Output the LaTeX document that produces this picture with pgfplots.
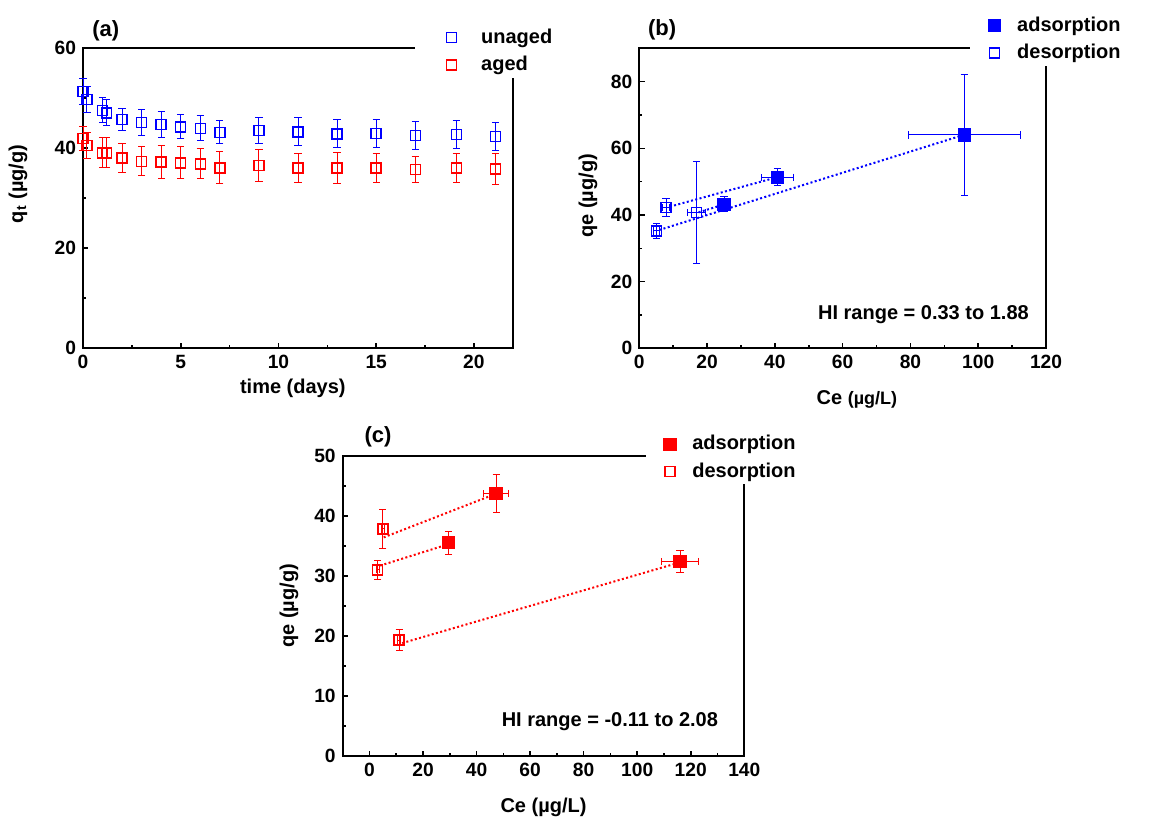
\documentclass[border=0pt]{standalone}
\usepackage{fontspec}
\setmainfont{Liberation Sans}
\usepackage{pgfplots}
\pgfplotsset{compat=1.18}

\pgfplotsset{
  panel/.style={
    scale only axis,
    axis line style={line width=1pt},
    tick pos=left,
    tick align=inside,
    major tick length=2.6pt,
    minor tick length=1.5pt,
    every tick/.style={black, line width=0.8pt},
    minor tick num=1,
    tick label style={font=\fontsize{9.6}{11}\selectfont\bfseries},
    /pgf/number format/assume math mode=true,
    label style={font=\fontsize{10}{12}\selectfont\bfseries},
    legend style={fill=white, draw=none, font=\fontsize{10}{12}\selectfont\bfseries,
      inner xsep=0pt, inner ysep=0pt, row sep=1pt},
    legend cell align=left,
    clip=false,
  },
  % legend image: invisible path sets the cell width, mark at a given x
  legimg/.style 2 args={legend image code/.code={
    \path (0pt,0pt) (#2,0pt);
    \draw[##1] plot coordinates {(#1,0pt)};}},
  pts/.style={only marks, color=#1, mark size=2.5pt,
    mark options={line width=0.7pt, solid, draw=#1, fill=#1},
    error bars/error bar style={line width=0.5pt, #1},
    error bars/error mark options={rotate=90, mark size=1.8pt, line width=0.5pt, #1}},
  fit/.style={color=#1, line width=1pt, dash pattern=on 1pt off 1.2pt, mark=none, forget plot},
}

\begin{document}
\begin{tikzpicture}
\useasboundingbox (0,0) rectangle (577pt,410pt);

% (a)
\begin{axis}[panel,
  at={(41.5pt,236pt)}, anchor=south west,
  width=215pt, height=150pt,
  xmin=0, xmax=22, ymin=0, ymax=60,
  xtick={0,5,10,15,20}, ytick={0,20,40,60},
  xlabel={time (days)},
  ylabel={q\textsubscript{t} (µg/g)},
  xlabel style={at={(axis description cs:0.488,-0.133)}, anchor=center},
  ylabel style={at={(axis description cs:-0.151,0.547)}, anchor=center},
  legend style={at={(axis description cs:0.772,0.9)}, anchor=south west},
  legimg={17.9pt}{30.5pt},
]
\addplot[pts=blue, mark=square, error bars/.cd, y dir=both, y explicit] coordinates {
  (0,51.3) +- (0,2.6) (0.2,49.7) +- (0,2.6) (1.0,47.5) +- (0,2.5) (1.2,47.0) +- (0,2.6)
  (2,45.7) +- (0,2.2) (3,45.1) +- (0,2.6) (4,44.7) +- (0,2.6) (5,44.2) +- (0,2.4)
  (6,43.9) +- (0,2.5) (7,43.1) +- (0,2.3) (9,43.5) +- (0,2.6) (11,43.2) +- (0,2.8)
  (13,42.8) +- (0,2.8) (15,42.9) +- (0,2.8) (17,42.5) +- (0,2.8) (19.1,42.7) +- (0,2.8)
  (21.1,42.3) +- (0,2.8)};
\addlegendentry{unaged}
\addplot[pts=red, mark=square, error bars/.cd, y dir=both, y explicit] coordinates {
  (0,41.9) +- (0,2.4) (0.2,40.5) +- (0,2.6) (1.0,39.0) +- (0,3.0) (1.2,39.0) +- (0,3.0)
  (2,38.0) +- (0,2.9) (3,37.3) +- (0,2.9) (4,37.2) +- (0,3.3) (5,37.0) +- (0,3.2)
  (6,36.8) +- (0,3.0) (7,36.0) +- (0,3.2) (9,36.5) +- (0,3.2) (11,36.0) +- (0,2.9)
  (13,36.0) +- (0,3.1) (15,36.0) +- (0,2.9) (17,35.7) +- (0,2.6) (19.1,36.0) +- (0,2.9)
  (21.1,35.8) +- (0,3.1)};
\addlegendentry{aged}
\node[font=\fontsize{11}{13}\selectfont\bfseries] at (axis description cs:0.053,1.057) {(a)};
\end{axis}

% (b)
\begin{axis}[panel,
  at={(319.65pt,235.85pt)}, anchor=south west,
  width=203.35pt, height=150pt,
  xmin=0, xmax=120, ymin=0, ymax=90,
  xtick={0,20,...,120}, ytick={0,20,...,80},
  xlabel={Ce {\fontsize{9}{11}\selectfont(µg/L)}},
  ylabel={qe (µg/g)},
  xlabel style={at={(axis description cs:0.535,-0.172)}, anchor=center},
  ylabel style={at={(axis description cs:-0.126,0.508)}, anchor=center},
  legend style={at={(axis description cs:0.813,0.941)}, anchor=south west},
  legimg={12pt}{21pt},
]
\addplot[fit=blue] coordinates {(5.9,35.5) (94.1,63.5)};
\addplot[fit=blue] coordinates {(9.0,42.5) (39.5,51.0)};
\addplot[fit=blue] coordinates {(17.5,40.8) (24.5,43.0)};
\addplot[pts=blue, mark=square*, mark size=3pt, error bars/.cd, x dir=both, x explicit, y dir=both, y explicit] coordinates {
  (95.9,64.0) +- (16.5,18.2) (40.8,51.3) +- (4.7,2.6) (25.0,43.2) +- (0.8,2.3)};
\addlegendentry{adsorption}
\addplot[pts=blue, mark=square, error bars/.cd, x dir=both, x explicit, y dir=both, y explicit] coordinates {
  (7.9,42.3) +- (1.0,2.7) (16.9,40.7) +- (2.6,15.4) (5.1,35.2) +- (0.8,2.3)};
\addlegendentry{desorption}
\node[font=\fontsize{10}{12}\selectfont\bfseries, anchor=east] at (axis cs:117,10) {HI range = 0.33 to 1.88};
\node[font=\fontsize{11}{13}\selectfont\bfseries] at (axis description cs:0.056,1.061) {(b)};
\end{axis}

% (c)
\begin{axis}[panel,
  at={(171.35pt,32pt)}, anchor=south west,
  width=200.8pt, height=150.15pt,
  xmin=-10, xmax=140, ymin=0, ymax=50,
  xtick={0,20,...,140}, ytick={0,10,...,50},
  xlabel={Ce (µg/L)},
  ylabel={qe (µg/g)},
  xlabel style={at={(axis description cs:0.5,-0.17)}, anchor=center},
  ylabel style={at={(axis description cs:-0.134,0.5)}, anchor=center},
  legend style={at={(axis description cs:0.753,0.903)}, anchor=south west},
  legimg={12pt}{21pt},
]
\addplot[fit=red] coordinates {(5.3,36.4) (46.3,43.5)};
\addplot[fit=red] coordinates {(4.0,31.7) (28.3,35.1)};
\addplot[fit=red] coordinates {(12.2,18.8) (114.9,32.1)};
\addplot[pts=red, mark=square*, mark size=3pt, error bars/.cd, x dir=both, x explicit, y dir=both, y explicit] coordinates {
  (47.3,43.7) +- (4.7,3.2) (29.5,35.5) +- (0.8,1.9) (116.0,32.4) +- (7.0,1.9)};
\addlegendentry{adsorption}
\addplot[pts=red, mark=square, error bars/.cd, x dir=both, x explicit, y dir=both, y explicit] coordinates {
  (5.0,37.8) +- (0.5,3.3) (3.1,31.0) +- (0.5,1.6) (11.1,19.3) +- (0.5,1.7)};
\addlegendentry{desorption}
\node[font=\fontsize{10}{12}\selectfont\bfseries, anchor=east] at (axis cs:132.8,5.7) {HI range = -0.11 to 2.08};
\node[font=\fontsize{11}{13}\selectfont\bfseries] at (axis description cs:0.088,1.063) {(c)};
\end{axis}
\end{tikzpicture}
\end{document}
